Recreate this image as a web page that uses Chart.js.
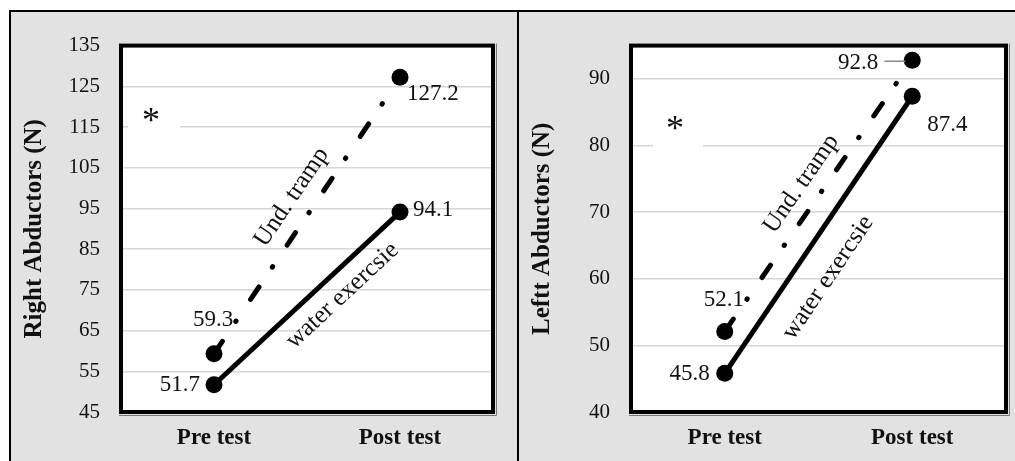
<!DOCTYPE html>
<html>
<head>
<meta charset="utf-8">
<script src="https://cdn.jsdelivr.net/npm/chart.js@4.4.1/dist/chart.umd.min.js"></script>
<style>
html,body{margin:0;padding:0;background:#fff;}
#wrap{position:relative;width:1015px;height:461px;overflow:hidden;}
.panel{position:absolute;top:10px;height:449px;border-top:2px solid #000;border-left:2px solid #000;background:#e2e2e2;}
#pL{left:9px;width:506px;}
#pR{left:517px;width:496px;}
.panel div{position:relative;width:100%;height:100%;}
</style>
</head>
<body>
<div id="wrap">
  <div class="panel" id="pL"><div><canvas id="chartL"></canvas></div></div>
  <div class="panel" id="pR"><div><canvas id="chartR"></canvas></div></div>
</div>
<script>
// data
const categories = ['Pre test', 'Post test'];
const rightTramp = [59.3, 127.2];
const rightWater = [51.7, 94.1];
const leftTramp = [52.1, 92.8];
const leftWater = [45.8, 87.4];
const rightAxis = {min: 45, max: 135, step: 10};
const leftAxis = {min: 40, max: 95, step: 10};
const trampName = 'Und. tramp';
const waterName = 'water exercsie';

const SERIF = '"Liberation Serif", "Times New Roman", serif';
const INK = '#111';

// white plot area + black frame
const framePlugin = {
  id: 'frame',
  beforeDraw(chart) {
    const a = chart.chartArea, c = chart.ctx;
    c.save();
    c.fillStyle = '#fff';
    c.fillRect(a.left, a.top, a.right - a.left, a.bottom - a.top);
    c.restore();
  },
  afterDraw(chart) {
    const a = chart.chartArea, c = chart.ctx;
    c.save();
    c.strokeStyle = '#000';
    c.lineWidth = 4;
    c.strokeRect(a.left, a.top, a.right - a.left, a.bottom - a.top);
    c.strokeStyle = '#777';
    c.lineWidth = 1;
    c.beginPath();
    c.moveTo(a.left - 2, a.bottom + 3.5); c.lineTo(a.right + 3.5, a.bottom + 3.5); c.lineTo(a.right + 3.5, a.top - 2);
    c.stroke();
    c.restore();
  }
};

// asterisk, value labels and the labels along the lines
const marksPlugin = {
  id: 'marks',
  beforeDatasetsDraw(chart, args, opts) {
    const a = chart.chartArea, c = chart.ctx, y = chart.scales.y;
    const s = opts.star;
    const gy = y.getPixelForValue(s.value);
    c.save();
    c.fillStyle = '#fff';
    c.fillRect(a.left + s.boxFrom, gy - 12, s.boxTo - s.boxFrom, 24);
    c.fillStyle = INK;
    c.font = '36px ' + SERIF;
    c.textAlign = 'center';
    c.textBaseline = 'alphabetic';
    c.fillText('*', a.left + s.dx, gy + s.dy + 4);
    c.restore();
  },
  afterDatasetsDraw(chart, args, opts) {
    const c = chart.ctx;
    c.save();
    c.fillStyle = INK;
    c.textBaseline = 'middle';
    chart.data.datasets.forEach((ds, di) => {
      const pts = chart.getDatasetMeta(di).data;
      // value labels
      c.font = '23px ' + SERIF;
      opts.values[di].forEach((o, i) => {
        const p = pts[i];
        c.textAlign = o.align;
        c.fillText(ds.data[i].toFixed(1), p.x + o.dx, p.y + o.dy);
        if (o.leader) {
          c.save();
          c.strokeStyle = '#888';
          c.lineWidth = 1.5;
          c.beginPath();
          c.moveTo(p.x + o.leader[0], p.y + 1);
          c.lineTo(p.x + o.leader[1], p.y + 1);
          c.stroke();
          c.restore();
        }
      });
      // series name along its line
      const n = opts.names[di];
      const p0 = pts[0], p1 = pts[1];
      const dx = p1.x - p0.x, dy = p1.y - p0.y, len = Math.hypot(dx, dy);
      const ux = dx / len, uy = dy / len;
      const cx = p0.x + ux * len * n.t + uy * n.off;
      const cy = p0.y + uy * len * n.t - ux * n.off;
      c.save();
      c.translate(cx, cy);
      c.rotate(Math.atan2(dy, dx));
      c.font = '25px ' + SERIF;
      c.textAlign = 'center';
      c.fillText(ds.label, 0, 0);
      c.restore();
    });
    c.restore();
  }
};

function makeChart(id, tramp, water, axis, title, pad, marks) {
  return new Chart(document.getElementById(id), {
    type: 'line',
    data: {
      labels: categories,
      datasets: [
        {
          label: trampName, data: tramp,
          borderColor: '#000', backgroundColor: '#000', borderWidth: 5,
          borderDash: [15, 24, 0.5, 26], borderCapStyle: 'round',
          pointRadius: 8.5, pointBackgroundColor: '#000', pointBorderWidth: 0
        },
        {
          label: waterName, data: water,
          borderColor: '#000', backgroundColor: '#000', borderWidth: 5,
          pointRadius: 8.5, pointBackgroundColor: '#000', pointBorderWidth: 0
        }
      ]
    },
    options: {
      responsive: true,
      maintainAspectRatio: false,
      animation: false,
      layout: {padding: {top: 20, right: pad.right, left: 0, bottom: 0}},
      plugins: {
        legend: {display: false},
        tooltip: {enabled: false},
        marks: marks
      },
      scales: {
        x: {
          offset: true,
          grid: {display: false, drawTicks: false},
          border: {display: false},
          ticks: {color: INK, padding: 12, font: {family: SERIF, size: 23, weight: 'bold'}},
          afterFit: s => { s.height = 49; }
        },
        y: {
          min: axis.min, max: axis.max,
          grid: {color: '#d6d6d6', lineWidth: 1.5, drawTicks: false},
          border: {display: false},
          ticks: {stepSize: axis.step, includeBounds: false, color: INK, padding: 21,
            font: {family: SERIF, size: 21}},
          title: {display: true, text: title, color: INK, padding: {top: pad.title, bottom: 0},
            font: {family: SERIF, size: 25, weight: 'bold'}},
          afterFit: s => { s.width = pad.left; }
        }
      }
    },
    plugins: [framePlugin, marksPlugin]
  });
}

makeChart('chartL', rightTramp, rightWater, rightAxis, 'Right Abductors (N)',
  {left: 110, right: 24, title: 9},
  {
    star: {value: 115, dy: 1, dx: 30, boxFrom: 7, boxTo: 59},
    values: [
      [{align: 'center', dx: -1, dy: -34}, {align: 'left', dx: 7, dy: 17}],
      [{align: 'right', dx: -14, dy: 0}, {align: 'left', dx: 13, dy: -2}]
    ],
    names: [{t: 0.52, off: 23}, {t: 0.61, off: -22}]
  });

makeChart('chartR', leftTramp, leftWater, leftAxis, 'Leftt Abductors (N)',
  {left: 112, right: 9, title: 9},
  {
    star: {value: 80, dy: -10, dx: 44, boxFrom: 22, boxTo: 72},
    values: [
      [{align: 'center', dx: -1, dy: -31}, {align: 'right', dx: -34, dy: 3, leader: [-28, -7]}],
      [{align: 'right', dx: -15, dy: 1}, {align: 'left', dx: 15, dy: 29}]
    ],
    names: [{t: 0.5, off: 21}, {t: 0.41, off: -32}]
  });
</script>
</body>
</html>
